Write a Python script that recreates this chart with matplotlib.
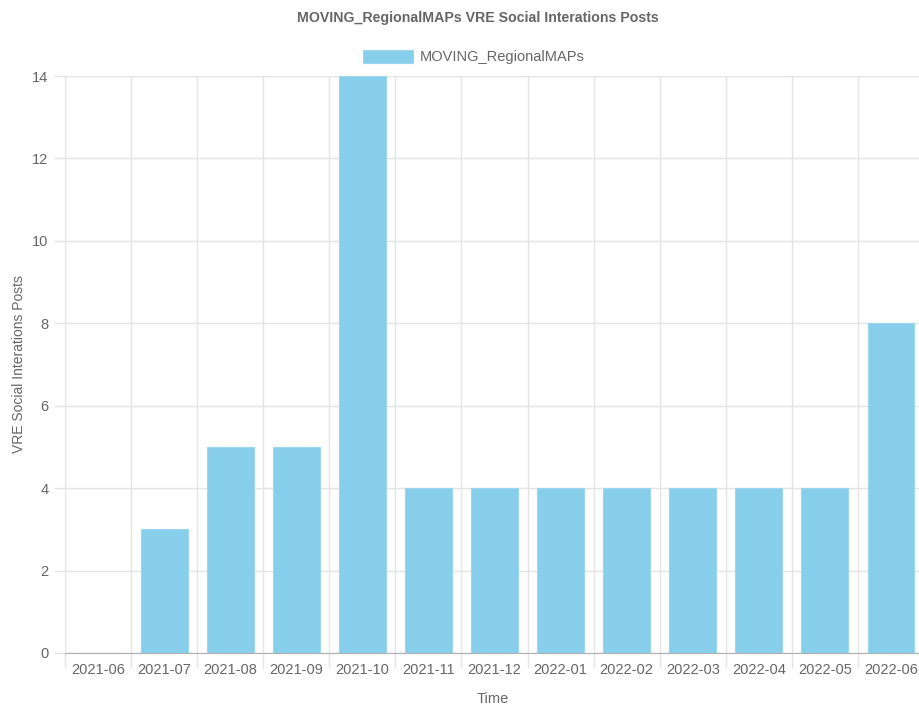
import matplotlib.pyplot as plt
import numpy as np

plt.rcParams['font.family'] = ['Liberation Sans', 'DejaVu Sans']

months = ["2021-06", "2021-07", "2021-08", "2021-09", "2021-10", "2021-11", "2021-12",
          "2022-01", "2022-02", "2022-03", "2022-04", "2022-05", "2022-06"]
posts = [0, 3, 5, 5, 14, 4, 4, 4, 4, 4, 4, 4, 8]
series_name = "MOVING_RegionalMAPs"

W, H = 920, 708
fig = plt.figure(figsize=(W / 100, H / 100), dpi=100)
# plot area runs a little past the right edge, as in the original
left, right, top, bottom = 65, 924, 76, 653
ax = fig.add_axes([left / W, (H - bottom) / H, (right - left) / W, (bottom - top) / H])

grey = "#666666"
grid_c = "#e4e4e4"

x = np.arange(len(months))
bars = ax.bar(x, posts, width=0.71, color="#87CEEB", edgecolor="#9dd7ef", linewidth=0.8,
              label=series_name, zorder=3)

ax.set_xlim(-0.5, len(months) - 0.5)
ax.set_ylim(0, 14)
ax.set_yticks(range(0, 15, 2))
ax.set_xticks(x)
ax.set_xticklabels(months)

# gridlines sit between categories
ax.set_xticks(np.arange(-0.5, len(months)), minor=True)
ax.grid(True, which="minor", axis="x", color=grid_c, linewidth=1, zorder=0)
ax.grid(True, which="major", axis="y", color=grid_c, linewidth=1, zorder=0)
ax.tick_params(axis="x", which="major", length=0, pad=7, labelsize=10.5, labelcolor=grey)
ax.tick_params(axis="x", which="minor", length=11, color=grid_c, width=1)
ax.tick_params(axis="y", length=8, color=grid_c, width=1, pad=4, labelsize=10.5, labelcolor=grey)

for s in ["top", "right"]:
    ax.spines[s].set_visible(False)
ax.spines["left"].set_color(grid_c)
ax.spines["bottom"].set_color("#b0b0b0")

ax.set_xlabel("Time", color=grey, fontsize=10.5)
ax.set_ylabel("VRE Social Interations Posts", color=grey, fontsize=10)
ax.xaxis.set_label_coords((493 - left) / (right - left), -(692 - bottom) / (bottom - top))
ax.yaxis.set_label_coords(-(left - 26) / (right - left), 0.5)

fig.text(478 / W, 1 - 18 / H, "MOVING_RegionalMAPs VRE Social Interations Posts",
         ha="center", va="center", fontsize=10.2, fontweight="bold", color=grey)
ax.legend(loc="center", bbox_to_anchor=(474 / W, 1 - 57 / H), bbox_transform=fig.transFigure,
          frameon=False, fontsize=10.5, labelcolor=grey, handlelength=3.4, handleheight=1.0,
          handletextpad=0.5)

fig.savefig("out.png", dpi=100)
